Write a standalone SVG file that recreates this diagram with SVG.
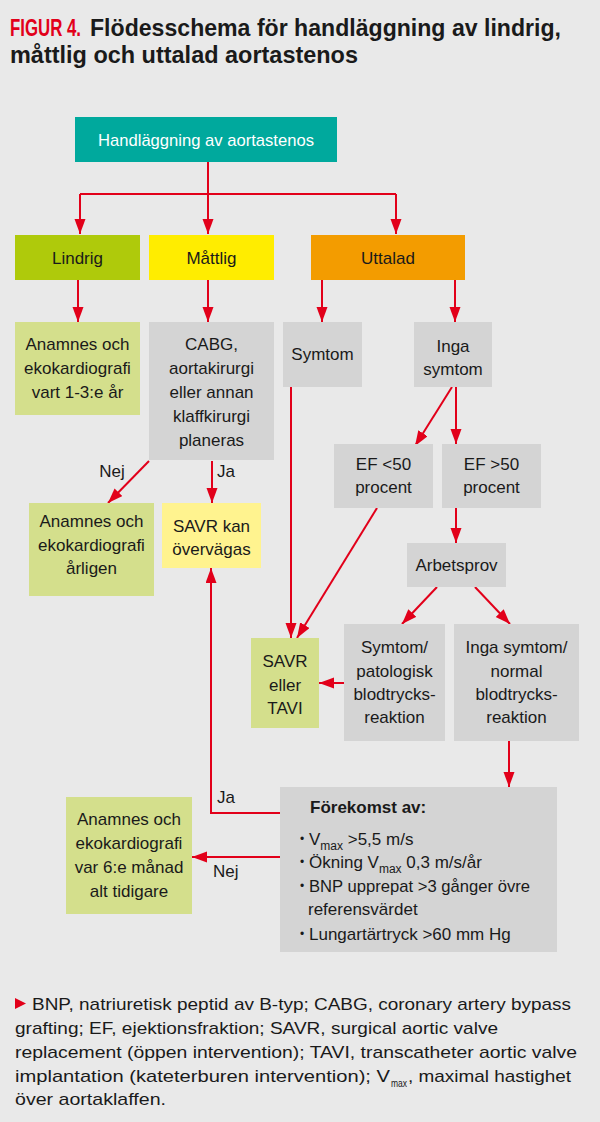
<svg xmlns="http://www.w3.org/2000/svg" width="600" height="1122" viewBox="0 0 600 1122">
<defs>
<marker id="ah" markerUnits="userSpaceOnUse" markerWidth="16" markerHeight="12" refX="15" refY="5.5" orient="auto">
<path d="M0,0 L15,5.5 L0,11 z" fill="#e2001a"/>
</marker>
<style>
.t{font-family:"Liberation Sans",Arial,sans-serif;font-size:17px;fill:#1a1a1a;text-anchor:middle}
.l{font-family:"Liberation Sans",Arial,sans-serif;font-size:17px;fill:#1a1a1a}
.s{font-size:12px}
.b{font-family:"Liberation Sans",Arial,sans-serif;font-size:12px;fill:#1a1a1a}
.c path{fill:none;stroke:#e2001a;stroke-width:2}
.gray{fill:#d4d4d4}
.lg{fill:#d4df8c}
</style>
</defs>
<rect x="0" y="0" width="600" height="1122" fill="#e9e9e9"/>
<g id="title">
<text x="10" y="36" font-family="Liberation Sans Narrow,Liberation Sans,sans-serif" font-weight="bold" font-size="23" fill="#e2001a" textLength="71" lengthAdjust="spacingAndGlyphs">FIGUR 4.</text>
<text x="90" y="36" font-family="Liberation Sans,sans-serif" font-weight="bold" font-size="24" fill="#1a1a1a" textLength="471" lengthAdjust="spacingAndGlyphs">Flödesschema för handläggning av lindrig,</text>
<text x="10" y="63" font-family="Liberation Sans,sans-serif" font-weight="bold" font-size="24" fill="#1a1a1a" textLength="348" lengthAdjust="spacingAndGlyphs">måttlig och uttalad aortastenos</text>
</g>
<g id="connectors" class="c">
<path d="M208,162 V234" marker-end="url(#ah)"/>
<path d="M80,194 H396"/>
<path d="M80,194 V234" marker-end="url(#ah)"/>
<path d="M396,194 V234" marker-end="url(#ah)"/>
<path d="M78,280 V322" marker-end="url(#ah)"/>
<path d="M208,280 V322" marker-end="url(#ah)"/>
<path d="M322,280 V322" marker-end="url(#ah)"/>
<path d="M455,280 V322" marker-end="url(#ah)"/>
<path d="M149,461 L108,503" marker-end="url(#ah)"/>
<path d="M212,461 V503" marker-end="url(#ah)"/>
<path d="M291,387 V638" marker-end="url(#ah)"/>
<path d="M452,387 L415,446" marker-end="url(#ah)"/>
<path d="M456,387 V444" marker-end="url(#ah)"/>
<path d="M377,508 L297,638" marker-end="url(#ah)"/>
<path d="M456,508 V543" marker-end="url(#ah)"/>
<path d="M437,587 L402,624" marker-end="url(#ah)"/>
<path d="M475,587 L510,624" marker-end="url(#ah)"/>
<path d="M344,683 H319" marker-end="url(#ah)"/>
<path d="M509,741 V787" marker-end="url(#ah)"/>
<path d="M280,813 H211 V568" marker-end="url(#ah)"/>
<path d="M280,857 H192" marker-end="url(#ah)"/>
</g>
<g id="edge-labels">
<text class="t" x="112" y="477">Nej</text>
<text class="l" x="217" y="477">Ja</text>
<text class="l" x="217" y="803">Ja</text>
<text class="l" x="213" y="877">Nej</text>
</g>
<g id="n-root">
<rect x="75" y="117" width="262" height="45" fill="#00a99d"/>
<text class="t" x="206" y="146" style="fill:#fff" textLength="216" lengthAdjust="spacingAndGlyphs">Handläggning av aortastenos</text>
</g>
<g id="n-lindrig">
<rect x="15" y="235" width="125" height="45" fill="#afca0b"/>
<text class="t" x="77.5" y="264">Lindrig</text>
</g>
<g id="n-mattlig">
<rect x="149" y="235" width="125" height="45" fill="#ffed00"/>
<text class="t" x="211.5" y="264">Måttlig</text>
</g>
<g id="n-uttalad">
<rect x="311" y="235" width="154" height="45" fill="#f39c00"/>
<text class="t" x="388" y="264">Uttalad</text>
</g>
<g id="n-anamnes1">
<rect class="lg" x="15" y="322" width="125" height="93"/>
<text class="t" x="77.5" y="350">Anamnes och</text>
<text class="t" x="77.5" y="374">ekokardiografi</text>
<text class="t" x="77.5" y="398">vart 1-3:e år</text>
</g>
<g id="n-cabg">
<rect class="gray" x="149" y="322" width="125" height="138"/>
<text class="t" x="211.5" y="350">CABG,</text>
<text class="t" x="211.5" y="374">aortakirurgi</text>
<text class="t" x="211.5" y="398">eller annan</text>
<text class="t" x="211.5" y="422">klaffkirurgi</text>
<text class="t" x="211.5" y="446">planeras</text>
</g>
<g id="n-symtom">
<rect class="gray" x="283" y="322" width="79" height="65"/>
<text class="t" x="322.5" y="360">Symtom</text>
</g>
<g id="n-ingasymtom">
<rect class="gray" x="414" y="322" width="78" height="65"/>
<text class="t" x="453" y="352">Inga</text>
<text class="t" x="453" y="375">symtom</text>
</g>
<g id="n-anamnes-arligen">
<rect class="lg" x="29" y="503" width="125" height="93"/>
<text class="t" x="91.5" y="527">Anamnes och</text>
<text class="t" x="91.5" y="551">ekokardiografi</text>
<text class="t" x="91.5" y="574">årligen</text>
</g>
<g id="n-savrkan">
<rect x="162" y="503" width="99" height="65" fill="#fff38f"/>
<text class="t" x="211.5" y="532">SAVR kan</text>
<text class="t" x="211.5" y="555">övervägas</text>
</g>
<g id="n-ef-lt50">
<rect class="gray" x="334" y="444" width="99" height="64"/>
<text class="t" x="383.5" y="470">EF &lt;50</text>
<text class="t" x="383.5" y="493">procent</text>
</g>
<g id="n-ef-gt50">
<rect class="gray" x="442" y="444" width="99" height="64"/>
<text class="t" x="491.5" y="470">EF &gt;50</text>
<text class="t" x="491.5" y="493">procent</text>
</g>
<g id="n-arbetsprov">
<rect class="gray" x="407" y="543" width="99" height="44"/>
<text class="t" x="456.5" y="571">Arbetsprov</text>
</g>
<g id="n-savr-tavi">
<rect class="lg" x="251" y="638" width="68" height="90"/>
<text class="t" x="285" y="667">SAVR</text>
<text class="t" x="285" y="691">eller</text>
<text class="t" x="285" y="714">TAVI</text>
</g>
<g id="n-symtom-pat">
<rect class="gray" x="344" y="624" width="101" height="117"/>
<text class="t" x="394.5" y="653">Symtom/</text>
<text class="t" x="394.5" y="677">patologisk</text>
<text class="t" x="394.5" y="700">blodtrycks-</text>
<text class="t" x="394.5" y="723">reaktion</text>
</g>
<g id="n-inga-normal">
<rect class="gray" x="454" y="624" width="125" height="117"/>
<text class="t" x="516.5" y="653">Inga symtom/</text>
<text class="t" x="516.5" y="677">normal</text>
<text class="t" x="516.5" y="700">blodtrycks-</text>
<text class="t" x="516.5" y="723">reaktion</text>
</g>
<g id="n-anamnes6">
<rect class="lg" x="66" y="797" width="126" height="117"/>
<text class="t" x="129" y="825">Anamnes och</text>
<text class="t" x="129" y="849">ekokardiografi</text>
<text class="t" x="129" y="873">var 6:e månad</text>
<text class="t" x="129" y="897">alt tidigare</text>
</g>
<g id="n-forekomst">
<rect class="gray" x="280" y="787" width="277" height="165"/>
<text class="l" x="310" y="813" font-weight="bold">Förekomst av:</text>
<text class="b" x="300" y="843">•</text>
<text class="l" x="309" y="845">V<tspan class="s" dy="5">max</tspan><tspan dy="-5"> &gt;5,5 m/s</tspan></text>
<text class="b" x="300" y="866">•</text>
<text class="l" x="309" y="868">Ökning V<tspan class="s" dy="5">max</tspan><tspan dy="-5"> 0,3 m/s/år</tspan></text>
<text class="b" x="300" y="890">•</text>
<text class="l" x="309" y="892" textLength="221" lengthAdjust="spacingAndGlyphs">BNP upprepat  &gt;3 gånger övre</text>
<text class="l" x="308" y="915">referensvärdet</text>
<text class="b" x="300" y="938">•</text>
<text class="l" x="309" y="940">Lungartärtryck &gt;60 mm Hg</text>
</g>
<g id="footnote">
<path d="M15,998 L26,1003.5 L15,1009 z" fill="#e2001a"/>
<text class="l" x="32" y="1010" textLength="539" lengthAdjust="spacingAndGlyphs">BNP, natriuretisk peptid av B-typ; CABG, coronary artery bypass</text>
<text class="l" x="15" y="1034" textLength="483" lengthAdjust="spacingAndGlyphs">grafting; EF, ejektionsfraktion; SAVR, surgical aortic valve</text>
<text class="l" x="15" y="1058" textLength="562" lengthAdjust="spacingAndGlyphs">replacement (öppen intervention); TAVI, transcatheter aortic valve</text>
<text class="l" x="15" y="1082" textLength="375" lengthAdjust="spacingAndGlyphs">implantation (kateterburen intervention); V</text>
<text class="l" x="391" y="1087" font-size="11" style="font-size:11px" textLength="16" lengthAdjust="spacingAndGlyphs">max</text>
<text class="l" x="408" y="1082" textLength="163" lengthAdjust="spacingAndGlyphs">, maximal hastighet</text>
<text class="l" x="15" y="1105" textLength="151" lengthAdjust="spacingAndGlyphs">över aortaklaffen.</text>
</g>
</svg>
